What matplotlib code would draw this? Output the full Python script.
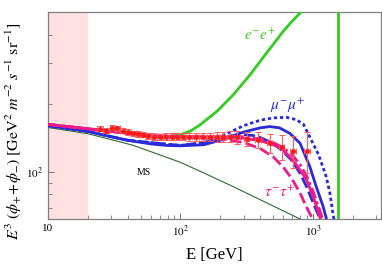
import numpy as np
import matplotlib
matplotlib.use("Agg")
import matplotlib.pyplot as plt

plt.rcParams['font.family'] = ['Liberation Serif', 'DejaVu Serif']
plt.rcParams['mathtext.fontset'] = 'stix'

# ---- data ----
data_E = [24.7, 27.4, 30.6, 33.4, 36.6, 40.2, 44.0, 47.5, 51.9, 57.1, 63.4, 70.0, 77.7,
          85.8, 93.6, 104, 116, 132, 149, 167, 188, 208, 236, 268, 316, 386, 473, 580, 707, 900]
data_F = [155, 152, 157, 156, 152, 150, 148, 147, 146, 144, 143.2, 143.2, 143.2,
          143.2, 143.2, 143.2, 143.2, 143.2, 142.5, 142.5, 143.2, 143.2, 143.2, 142.5,
          139.7, 138.7, 134, 129.5, 124.4, 124.4]
data_err = [4, 4, 4, 4, 4, 4, 4, 4, 4, 4.5, 4.5, 4.5, 5, 5, 5, 5, 5.5, 5.5, 6, 6, 7, 7,
            8, 9, 10, 11, 13, 16, 20, 25]
data_xerr = [1.2, 1.3, 1.4, 1.5, 1.7, 1.8, 2.0, 2.2, 2.4, 2.6, 2.9, 3.2, 3.6,
             4.0, 4.4, 5, 6, 6, 7, 8, 9, 10, 11, 13, 15, 18, 22, 27, 33, 45]

# model curves
E_pink = [10, 15, 20, 30, 40, 60, 80, 100, 150, 200, 300, 400, 500, 563, 650, 750, 896, 1000, 1100, 1150]
F_pink = [162, 158, 155, 151, 148, 145, 143.5, 143, 142.5, 142, 141, 137.5, 132, 128.5, 119, 108, 92.6, 79, 67, 61]
E_pink_dash = [10, 20, 40, 100, 150, 200, 300, 400, 500, 600, 700, 800, 900, 1000, 1030]
F_pink_dash = [162, 155, 148, 142.5, 141.5, 140, 135, 127, 117, 105, 93, 81, 70, 62, 60]
E_pink_dd = [10, 20, 40, 100, 200, 300, 400, 500, 600, 700, 800, 900, 1000, 1100, 1200]
F_pink_dd = [162, 155, 148.5, 143.5, 143, 143, 140, 135, 128, 119, 108, 96, 83, 71, 61]

E_blue = [10, 15, 20, 30, 40, 60, 80, 100, 150, 200, 300, 400, 473, 560, 670, 800, 948, 1050, 1197, 1270]
F_blue = [160, 155, 151, 143, 138, 133, 131, 130.5, 132, 138, 150, 156.5, 158.5, 156.5, 148, 134, 106, 88, 70.6, 62]
E_blue_dot = [10, 20, 40, 100, 150, 200, 300, 400, 500, 631, 750, 850, 1000, 1100, 1200, 1260, 1340, 1413, 1460]
F_blue_dot = [160, 151, 138, 131, 135, 143, 160, 169, 173, 174, 170, 162, 134, 120, 104, 95.7, 82, 66.8, 60]
E_blue_dash = [10, 20, 40, 100, 150, 200, 250, 300, 350, 400, 500, 600, 700, 800, 900, 1000, 1100, 1180]
F_blue_dash = [160, 151, 138, 131, 135, 141, 145, 146, 145, 142, 134, 123, 112, 99, 86, 74, 65, 60]

E_ee = [10, 20, 40, 60, 80, 100, 120, 140, 188, 250, 335, 447, 597, 700, 822]
F_ee = [162, 155, 149, 145, 143.5, 146, 152, 161, 184.5, 218, 267, 333, 414, 460, 506]

E_ms = [10, 14, 20, 30, 44, 70, 100, 150, 250, 400, 753, 900]
F_ms = [157, 152.5, 147.5, 139, 131.2, 119.1, 110.5, 99.3, 86.5, 75.8, 63.5, 60.4]

E_cut = 1550
band_E = [10, 20]

xticks = [10, 100, 1000]
xticklabels = ['10', '$10^2$', '$10^3$']
yticks = [100]
yticklabels = ['$10^2$']

# ---- figure ----
fig = plt.figure(figsize=(3.82, 2.64), dpi=100)
ax = fig.add_axes([48/382, 45/264, 333/382, 207.3/264])
ax.set_xscale('log')
ax.set_yscale('log')
ax.set_xlim(10, 3270)
ax.set_ylim(62.4, 505)

ax.axvspan(band_E[0], band_E[1], color='#ffe1e1', zorder=0, lw=0)

ax.plot(E_ms, F_ms, color='#2f6a2f', lw=0.8, zorder=2)
ax.plot(E_ee, F_ee, color='#33cc22', lw=2.0, zorder=3)
ax.axvline(E_cut, color='#33cc22', lw=2.0, zorder=3)

blue = '#2a2ad8'
pink = '#ee1a8a'
ax.plot(E_blue, F_blue, color=blue, lw=2.0, zorder=4)
ax.plot(E_blue_dot, F_blue_dot, color=blue, lw=2.0, ls=(0, (1.2, 1.0)), zorder=4)
ax.plot(E_blue_dash, F_blue_dash, color=blue, lw=2.0, ls=(0, (4, 1.5)), zorder=4)
ax.plot(E_pink, F_pink, color=pink, lw=2.0, zorder=5)
ax.plot(E_pink_dash, F_pink_dash, color=pink, lw=2.0, ls=(0, (4, 1.5)), zorder=5)
ax.plot(E_pink_dd, F_pink_dd, color=pink, lw=2.0, ls=(0, (4, 1.2, 1, 1.2)), zorder=5)

ax.errorbar(data_E, data_F, yerr=data_err, xerr=data_xerr, fmt='o', ms=2.6,
            color='#ff1a1a', ecolor='#ff5a5a', elinewidth=0.8, capsize=2,
            capthick=0.7, zorder=6)

ax.text(0.59, 0.888, '$e^{-}e^{+}$', color='#44cc22', fontsize=11, transform=ax.transAxes, ha='left', va='center')
ax.text(0.667, 0.545, r'$\mu^{-}\mu^{+}$', color=blue, fontsize=11, transform=ax.transAxes, ha='left', va='center')
ax.text(0.65, 0.13, r'$\tau^{-}\tau^{+}$', color=pink, fontsize=11, transform=ax.transAxes, ha='left', va='center')
ax.text(0.267, 0.222, 'MS', color='black', fontsize=7, transform=ax.transAxes, ha='left', va='center')

ax.set_xticks(xticks)
ax.set_xticklabels(xticklabels)
ax.set_yticks(yticks)
ax.set_yticklabels(yticklabels)
ax.xaxis.set_minor_locator(matplotlib.ticker.LogLocator(base=10, subs=np.arange(2, 10)))
ax.yaxis.set_minor_locator(matplotlib.ticker.FixedLocator([70, 80, 90, 200, 300, 400]))
ax.xaxis.set_minor_formatter(matplotlib.ticker.NullFormatter())
ax.yaxis.set_minor_formatter(matplotlib.ticker.NullFormatter())
ax.tick_params(which='both', direction='in', labelsize=8, color='#777777', top=False, right=False)
ax.tick_params(which='major', length=4, width=0.7)
ax.tick_params(which='minor', length=3, width=0.6)
for s in ax.spines.values():
    s.set_color('#808080')
    s.set_linewidth(0.9)

ax.set_xlabel('E [GeV]', fontsize=12, labelpad=6)
fig.text(13/382, 1 - 131/264,
         r'$E^3\ (\phi_{+}\!+\!\phi_{-})\ [\mathrm{GeV}^2\ m^{-2}\ s^{-1}\ \mathrm{sr}^{-1}]$',
         fontsize=11.5, rotation=90, ha='center', va='center')

fig.savefig('out.png', dpi=100)
